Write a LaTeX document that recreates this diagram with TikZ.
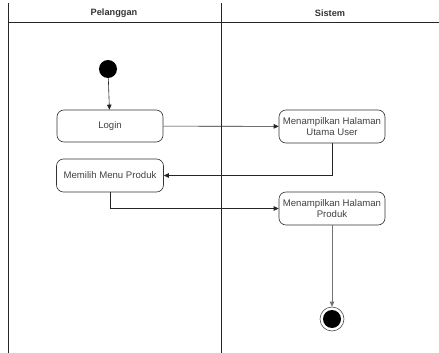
\documentclass[tikz,border=0pt]{standalone}
\usepackage{fontspec}
\setmainfont{Liberation Sans}
\usetikzlibrary{arrows.meta}
\begin{document}
\begin{tikzpicture}[x=1pt,y=-1pt,
  lane/.style={draw=black!85,line width=0.8pt},
  act/.style={draw=black!80,rounded corners=7pt,line width=0.6pt,align=center,
    font=\fontsize{9.6}{11}\selectfont,text=black!75,inner sep=0pt},
  flow/.style={draw=black!85,line width=0.6pt,-{Triangle[length=5pt,width=4.5pt]}},
  hdr/.style={font=\fontsize{9.2}{11}\selectfont\bfseries,text=black!80}]
\useasboundingbox (0,0) rectangle (439,353);
% swimlanes
\draw[lane] (8,3) -- (8,353);
\draw[lane] (221,3) -- (221,353);
\draw[lane] (8,22) -- (439,22);
\node[hdr] (hp) at (114,13) {Pelanggan};
\node[hdr] (hs) at (330,13) {Sistem};
% activities
\node[circle,fill=black,minimum size=18pt,inner sep=0pt] (start) at (108,69) {};
\node[act,minimum width=106pt,minimum height=32pt] (login) at (110,126) {Login};
\node[act,minimum width=107pt,minimum height=33pt] (menu) at (110,175.5) {Memilih Menu Produk};
\node[act,minimum width=106pt,minimum height=33pt] (utama) at (332,126.5) {Menampilkan Halaman\\Utama User};
\node[act,minimum width=106pt,minimum height=33pt] (produk) at (332,208.5) {Menampilkan Halaman\\Produk};
\node[circle,draw=black!70,line width=0.6pt,minimum size=24pt,inner sep=0pt] (end) at (332,319) {};
\node[circle,fill=black,minimum size=18pt,inner sep=0pt] at (end) {};
% transitions
\draw[flow] (start) -- (login);
\draw[flow] (login) -- (utama);
\draw[flow] (utama.south) |- (menu.east);
\draw[flow] (menu.south) |- (produk.west);
\draw[flow,draw=black!55] (produk) -- (end);
\end{tikzpicture}
\end{document}
